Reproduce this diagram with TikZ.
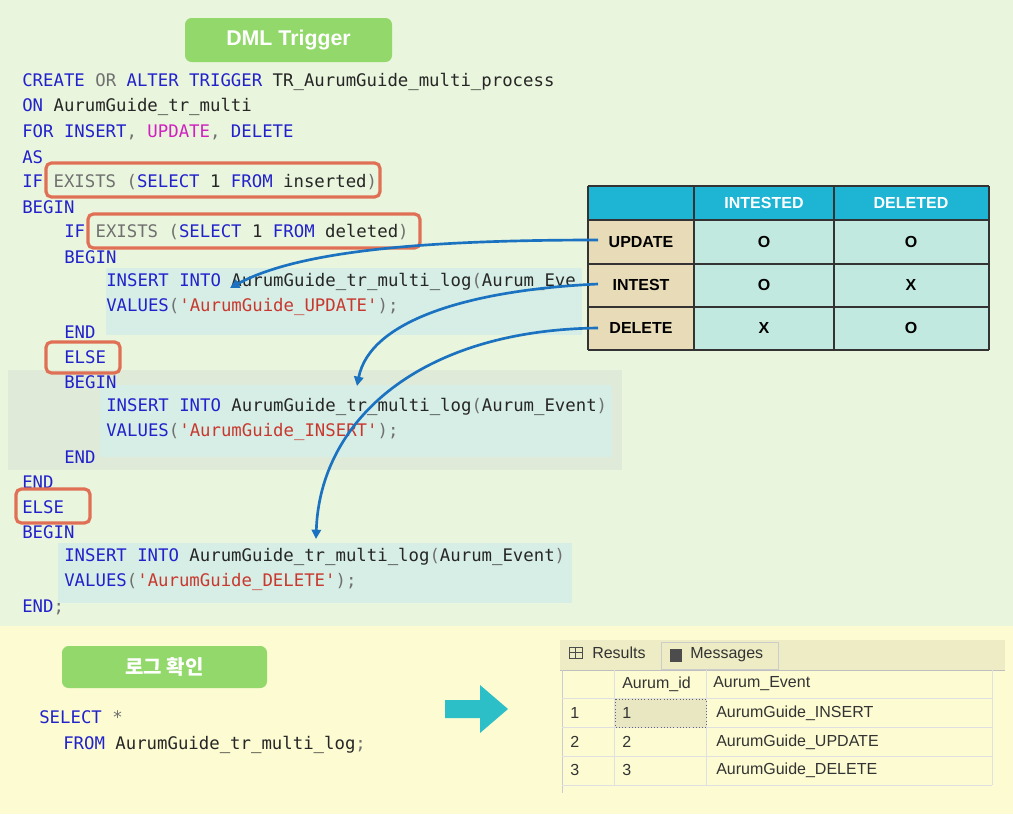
\documentclass[tikz,border=0pt]{standalone}
\usepackage{fontspec}
\setmainfont{Liberation Sans}
\newfontfamily\codef{DejaVu Sans Mono}
\newfontfamily\cjk{Noto Sans CJK KR}
\usetikzlibrary{arrows.meta}
\definecolor{bgg}{HTML}{E9F5DC}
\definecolor{bgy}{HTML}{FCFBD2}
\definecolor{kw}{HTML}{2222CC}
\definecolor{gr}{HTML}{707070}
\definecolor{st}{HTML}{C8382E}
\definecolor{mg}{HTML}{D020C0}
\definecolor{hl}{HTML}{D6EEE6}
\definecolor{pan}{HTML}{DFEBD8}
\definecolor{rb}{HTML}{E07055}
\definecolor{badge}{HTML}{92D86A}
\definecolor{thd}{HTML}{1EB4D4}
\definecolor{tlf}{HTML}{E8DCB8}
\definecolor{tcl}{HTML}{C2E9DF}
\definecolor{arr}{HTML}{1A72C0}
\definecolor{teal}{HTML}{2CBFC8}
\newcommand{\K}[1]{\textcolor{kw}{#1}}
\newcommand{\G}[1]{\textcolor{gr}{#1}}
\newcommand{\Sx}[1]{\textcolor{st}{#1}}
\tikzset{x=0.75pt,y=-0.75pt,
 code/.style={anchor=west,inner sep=0,font=\codef\fontsize{13}{15}\selectfont,text=black!85},
 red box/.style={draw=rb,line width=2.4pt,rounded corners=4pt},
 badge/.style={fill=badge,rounded corners=5pt},
 btext/.style={text=white,font=\bfseries\fontsize{16}{18}\selectfont},
 cell/.style={draw=black!80,line width=0.8pt},
 ctext/.style={font=\bfseries\fontsize{12}{14}\selectfont},
 link/.style={arr,line width=2pt,-{Triangle[length=7pt,width=7pt]}},
 res/.style={font=\fontsize{12}{14}\selectfont,text=black!80,anchor=west,inner sep=0}}
\begin{document}
\begin{tikzpicture}
\useasboundingbox (0,0) rectangle (1013,814);
\fill[bgg] (0,0) rectangle (1013,626);
\fill[bgy] (0,626) rectangle (1013,814);
% highlights
\fill[hl] (106,268) rectangle (582,335);
\fill[pan] (8,370) rectangle (622,470);
\fill[hl] (100,385) rectangle (612,457);
\fill[hl] (58,543) rectangle (572,603);
% badge
\fill[badge] (185,18) rectangle (392,62);
\node[btext] (b1) at (288.5,40) {DML Trigger};
% code
\node[code] (l1) at (22,82) {\K{CREATE} \G{OR} \K{ALTER TRIGGER} TR\_AurumGuide\_multi\_process};
\node[code] (l2) at (22,107) {\K{ON} AurumGuide\_tr\_multi};
\node[code] (l3) at (22,132) {\K{FOR INSERT}\G{,} \textcolor{mg}{UPDATE}\G{,} \K{DELETE}};
\node[code] (l4) at (22,157) {\K{AS}};
\node[code] (l5) at (22,182) {\K{IF} \G{EXISTS (}\K{SELECT} 1 \K{FROM} inserted\G{)}};
\node[code] (l6) at (22,207) {\K{BEGIN}};
\node[code] (l7) at (64,232) {\K{IF} \G{EXISTS (}\K{SELECT} 1 \K{FROM} deleted\G{)}};
\node[code] (l8) at (64,257) {\K{BEGIN}};
\node[code] (l9) at (106,282) {\K{INSERT INTO} AurumGuide\_tr\_multi\_log\G{(}Aurum\_Eve};
\node[code] (l10) at (106,307) {\K{VALUES}\G{(}\Sx{'AurumGuide\_UPDATE'}\G{);}};
\node[code] (l11) at (64,332) {\K{END}};
\node[code] (l12) at (64,357) {\K{ELSE}};
\node[code] (l13) at (64,382) {\K{BEGIN}};
\node[code] (l14) at (106,407) {\K{INSERT INTO} AurumGuide\_tr\_multi\_log\G{(}Aurum\_Event\G{)}};
\node[code] (l15) at (106,432) {\K{VALUES}\G{(}\Sx{'AurumGuide\_INSERT'}\G{);}};
\node[code] (l16) at (64,457) {\K{END}};
\node[code] (l17) at (22,482) {\K{END}};
\node[code] (l18) at (22,507) {\K{ELSE}};
\node[code] (l19) at (22,532) {\K{BEGIN}};
\node[code] (l20) at (64,557) {\K{INSERT INTO} AurumGuide\_tr\_multi\_log\G{(}Aurum\_Event\G{)}};
\node[code] (l21) at (64,582) {\K{VALUES}\G{(}\Sx{'AurumGuide\_DELETE'}\G{);}};
\node[code] (l22) at (22,607) {\K{END}\G{;}};
% red boxes
\draw[red box] (46,163) rectangle (380,197);
\draw[red box] (88,214) rectangle (420,248);
\draw[red box] (46,342) rectangle (120,373);
\draw[red box] (16,489) rectangle (90,523);
% table
\fill[thd] (588,186) rectangle (989,220);
\fill[tlf] (588,220) rectangle (694,350);
\fill[tcl] (694,220) rectangle (989,350);
\foreach \x in {588,694,834,989} \draw[cell] (\x,186) -- (\x,350);
\foreach \y in {186,220,264,307,350} \draw[cell] (588,\y) -- (989,\y);
\node[ctext,text=white] (h1) at (764,203) {INTESTED};
\node[ctext,text=white] (h2) at (911,203) {DELETED};
\node[ctext] (rU) at (641,242) {UPDATE};
\node[ctext] (rI) at (641,285) {INTEST};
\node[ctext] (rD) at (641,328) {DELETE};
\node[ctext] (c11) at (764,242) {O};
\node[ctext] (c12) at (911,242) {O};
\node[ctext] (c21) at (764,285) {O};
\node[ctext] (c22) at (911,285) {X};
\node[ctext] (c31) at (764,328) {X};
\node[ctext] (c32) at (911,328) {O};
\coordinate (pU) at (598,240);
\coordinate (pI) at (598,284);
\coordinate (pD) at (598,328);
\coordinate (tU) at (230,288);
\coordinate (tI) at (357,386);
\coordinate (tD) at (316,539);
\draw[link] (pU) .. controls (430,240) and (300,250) .. (tU);
\draw[link] (pI) .. controls (470,290) and (370,320) .. (tI);
\draw[link] (pD) .. controls (420,330) and (320,420) .. (tD);
% bottom
\fill[badge] (62,646) rectangle (267,688);
\node[btext,font=\cjk\bfseries\fontsize{15}{18}\selectfont] (b2) at (164.5,667) {로그 확인};
\node[code] (s1) at (39,717) {\K{SELECT} \G{*}};
\node[code] (s2) at (63,745) {\K{FROM} AurumGuide\_tr\_multi\_log\G{;}};
\fill[teal] (445,700) -- (480,700) -- (480,685) -- (508,709) -- (480,733) -- (480,718) -- (445,718) -- cycle;
% results
\fill[black!6!bgy] (560,640) rectangle (1005,670);
\draw[black!25] (560,670) -- (1005,670);
\draw[black!20] (661,642) rectangle (778,669);
\draw[black!70] (569,647) rectangle (582,658) (569,652.5) -- (582,652.5) (575.5,647) -- (575.5,658);
\node[res] (t1) at (592,653) {Results};
\fill[black!70] (670,649) rectangle (682,662);
\node[res] (t2) at (690,655) {Messages};
\draw[black!20] (562,670) -- (562,793);
\foreach \y in {698,727,756,785} \draw[black!12] (562,\y) -- (992,\y);
\foreach \x in {614,706} \draw[black!12] (\x,670) -- (\x,785);
\draw[black!12] (992,670) -- (992,785);
\fill[black!8!bgy] (615,699) rectangle (706,727);
\draw[black!60,dotted] (615,699) rectangle (706,727);
\node[res] (hA) at (622,684) {Aurum\_id};
\node[res] (hB) at (713,684) {Aurum\_Event};
\node[res] (n1) at (570,713) {1};
\node[res] (n2) at (570,742) {2};
\node[res] (n3) at (570,770) {3};
\node[res] (i1) at (622,713) {1};
\node[res] (i2) at (622,742) {2};
\node[res] (i3) at (622,770) {3};
\node[res] (e1) at (716,713) {AurumGuide\_INSERT};
\node[res] (e2) at (716,742) {AurumGuide\_UPDATE};
\node[res] (e3) at (716,770) {AurumGuide\_DELETE};
\end{tikzpicture}
\end{document}
